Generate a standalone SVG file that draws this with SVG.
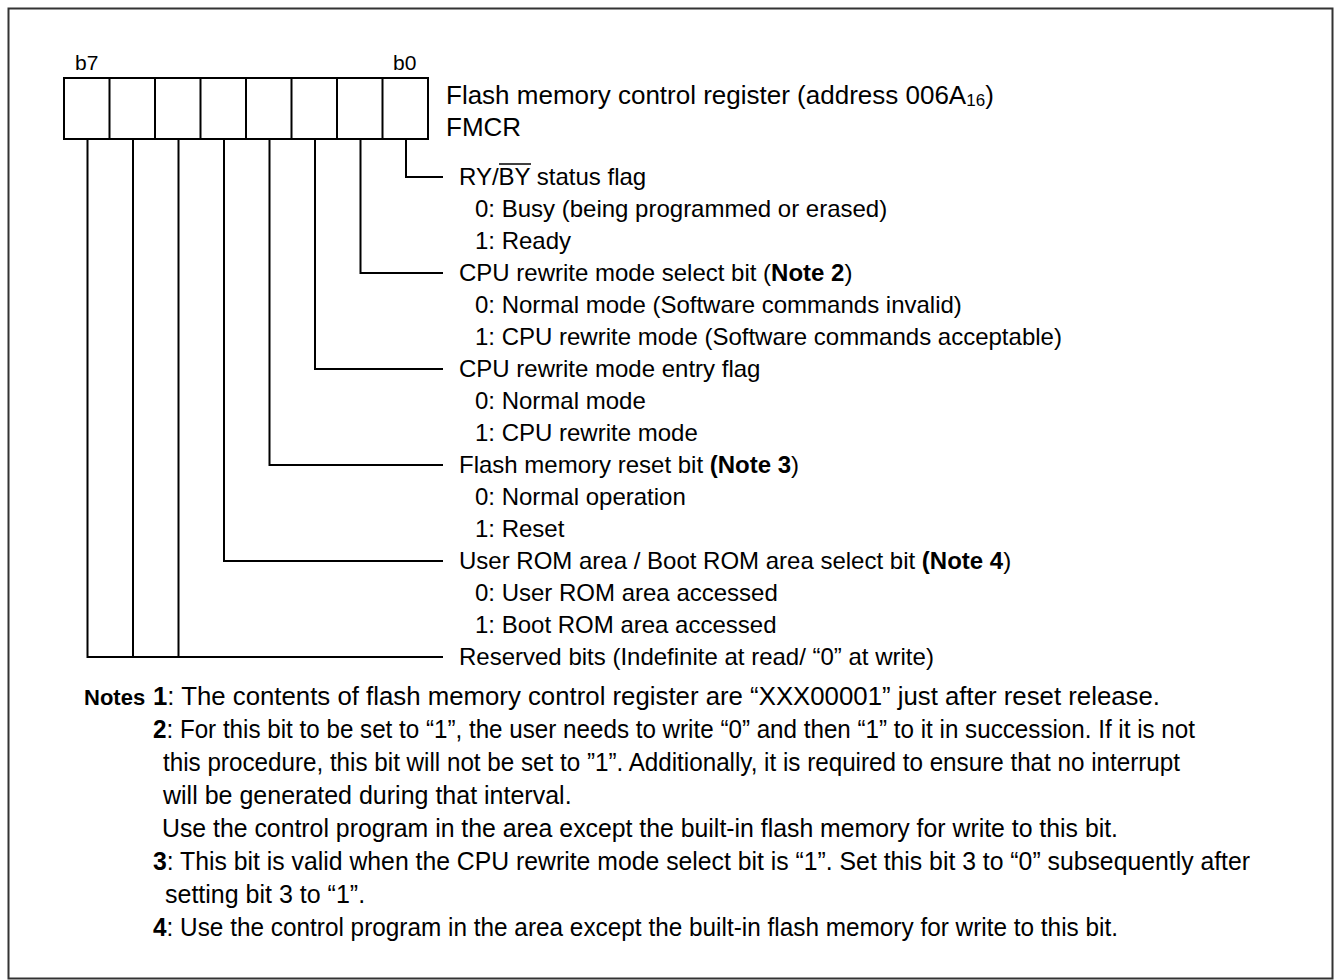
<svg xmlns="http://www.w3.org/2000/svg" width="1337" height="980" viewBox="0 0 1337 980">
<style>
.t{font-family:"Liberation Sans",Arial,sans-serif;font-size:24px;fill:#000}
.n{font-family:"Liberation Sans",Arial,sans-serif;font-size:25px;fill:#000}
.b{font-weight:bold}
.ln{stroke:#000;stroke-width:2;fill:none}
</style>
<rect x="8.5" y="8.5" width="1324" height="970" fill="#fff" stroke="#333" stroke-width="2"/>
<g id="register">
<rect x="64" y="78" width="364" height="61" class="ln"/>
<path class="ln" d="M109.5 78V139M155 78V139M200.5 78V139M246 78V139M291.5 78V139M337 78V139M382.5 78V139"/>
<text class="t" x="75" y="70" style="font-size:21px">b7</text>
<text class="t" x="393" y="70" style="font-size:21px">b0</text>
<text class="t" x="446" y="104" style="font-size:26px">Flash memory control register (address 006A<tspan style="font-size:17px" dy="2">16</tspan><tspan dy="-2">)</tspan></text>
<text class="t" x="446" y="136" style="font-size:26px">FMCR</text>
</g>
<g id="connectors">
<path class="ln" d="M406 139V177H443"/>
<path class="ln" d="M360.5 139V273H443"/>
<path class="ln" d="M315 139V369H443"/>
<path class="ln" d="M269.5 139V465H443"/>
<path class="ln" d="M224 139V561H443"/>
<path class="ln" d="M178.5 139V657M133 139V657M87.5 139V657H443"/>
</g>
<g id="bit0">
<text class="t" x="459" y="185">RY/BY status flag</text>
<line x1="499" y1="164" x2="531" y2="164" stroke="#000" stroke-width="1.5"/>
<text class="t" x="475" y="217">0: Busy (being programmed or erased)</text>
<text class="t" x="475" y="249">1: Ready</text>
</g>
<g id="bit1">
<text class="t" x="459" y="281">CPU rewrite mode select bit (<tspan class="b">Note 2</tspan>)</text>
<text class="t" x="475" y="313">0: Normal mode (Software commands invalid)</text>
<text class="t" x="475" y="345">1: CPU rewrite mode (Software commands acceptable)</text>
</g>
<g id="bit2">
<text class="t" x="459" y="377">CPU rewrite mode entry flag</text>
<text class="t" x="475" y="409">0: Normal mode</text>
<text class="t" x="475" y="441">1: CPU rewrite mode</text>
</g>
<g id="bit3">
<text class="t" x="459" y="473">Flash memory reset bit <tspan class="b">(Note 3</tspan>)</text>
<text class="t" x="475" y="505">0: Normal operation</text>
<text class="t" x="475" y="537">1: Reset</text>
</g>
<g id="bit4">
<text class="t" x="459" y="569">User ROM area / Boot ROM area select bit <tspan class="b">(Note 4</tspan>)</text>
<text class="t" x="475" y="601">0: User ROM area accessed</text>
<text class="t" x="475" y="633">1: Boot ROM area accessed</text>
</g>
<g id="bits765">
<text class="t" x="459" y="665">Reserved bits (Indefinite at read/ “0” at write)</text>
</g>
<g id="notes">
<text class="n b" x="84" y="705" style="font-size:22px">Notes</text>
<text class="n" x="153" y="705" textLength="1007" lengthAdjust="spacingAndGlyphs"><tspan class="b">1</tspan>: The contents of flash memory control register are “XXX00001” just after reset release.</text>
<text class="n" x="153" y="738" textLength="1042" lengthAdjust="spacingAndGlyphs"><tspan class="b">2</tspan>: For this bit to be set to “1”, the user needs to write “0” and then “1” to it in succession. If it is not</text>
<text class="n" x="163" y="771" textLength="1017" lengthAdjust="spacingAndGlyphs">this procedure, this bit will not be set to ”1”. Additionally, it is required to ensure that no interrupt</text>
<text class="n" x="163" y="804">will be generated during that interval.</text>
<text class="n" x="162" y="837" textLength="956" lengthAdjust="spacingAndGlyphs">Use the control program in the area except the built-in flash memory for write to this bit.</text>
<text class="n" x="153" y="870" textLength="1097" lengthAdjust="spacingAndGlyphs"><tspan class="b">3</tspan>: This bit is valid when the CPU rewrite mode select bit is “1”. Set this bit 3 to “0” subsequently after</text>
<text class="n" x="165" y="903">setting bit 3 to “1”.</text>
<text class="n" x="153" y="936" textLength="965" lengthAdjust="spacingAndGlyphs"><tspan class="b">4</tspan>: Use the control program in the area except the built-in flash memory for write to this bit.</text>
</g>
</svg>
